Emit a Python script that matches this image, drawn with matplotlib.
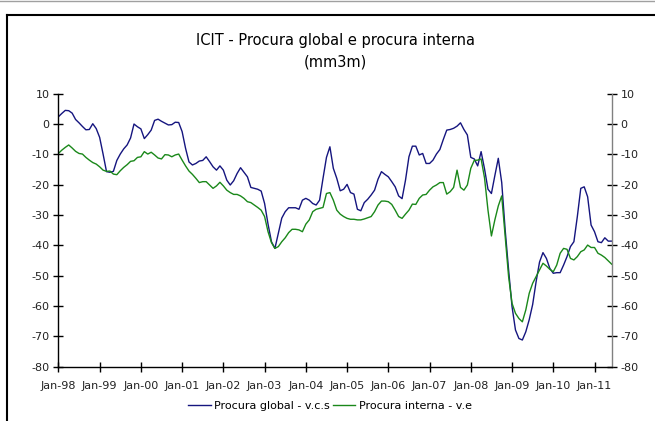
import matplotlib
matplotlib.use("Agg")
import matplotlib.pyplot as plt
from matplotlib.lines import Line2D

plt.rcParams['font.family'] = ['DejaVu Sans']
plt.rcParams['axes.unicode_minus'] = False

# monthly values Jan-98 .. Jun-11
global_vcs = [
    2.4, 3.5, 4.5, 4.4, 3.6, 1.5, 0.4, -0.8, -1.9, -1.8, 0.1, -1.5,
    -4.4, -9.9, -15.7, -15.9, -15.6, -12.0, -9.9, -8.2, -6.9, -4.6, 0.0, -0.9,
    -1.6, -4.8, -3.5, -2.0, 1.2, 1.6, 0.9, 0.3, -0.3, -0.2, 0.6, 0.5,
    -2.5, -8.0, -12.5, -13.5, -13.0, -12.2, -12.0, -10.8, -12.4, -14.1, -15.2, -13.8,
    -15.2, -18.5, -20.1, -18.7, -16.3, -14.4, -15.9, -17.4, -20.9, -21.2, -21.5, -22.1,
    -26.2, -33.0, -38.8, -41.0, -36.0, -31.0, -28.9, -27.6, -27.6, -27.6, -28.1, -25.1,
    -24.5, -25.1, -26.2, -26.7, -25.1, -17.9, -11.0, -7.5, -14.6, -17.9, -22.0, -21.5,
    -19.9, -22.6, -23.1, -28.1, -28.6, -25.9, -24.8, -23.4, -21.8, -18.2, -15.7, -16.6,
    -17.4, -19.0, -20.7, -23.7, -24.6, -18.5, -10.8, -7.3, -7.3, -10.2, -9.7, -13.0,
    -13.0, -11.9, -9.9, -8.4, -5.1, -2.0, -1.8, -1.4, -0.7, 0.4, -1.8, -3.6,
    -11.0, -11.5, -13.8, -9.1, -14.8, -21.5, -22.9, -17.0, -11.3, -19.3, -34.9, -48.1,
    -60.2, -67.9, -70.7, -71.2, -68.5, -64.5, -59.5, -52.0, -45.5, -42.4, -44.3, -47.6,
    -49.2, -49.0, -49.0, -46.5, -43.7, -40.4, -38.8, -30.5, -21.2, -20.7, -24.0, -33.3,
    -35.5, -38.8, -39.1, -37.5, -38.6, -38.6,
]

interna_ve = [
    -9.7, -8.6, -7.7, -6.9, -7.9, -9.0, -9.7, -9.9, -11.0, -11.9, -12.7, -13.2,
    -14.1, -15.2, -15.6, -15.5, -16.5, -16.7, -15.4, -14.3, -13.4, -12.3, -12.1, -11.0,
    -10.8, -9.1, -9.9, -9.3, -10.2, -11.2, -11.5, -10.1, -10.2, -10.8, -10.2, -9.9,
    -11.9, -13.8, -15.5, -16.6, -17.9, -19.3, -19.0, -19.0, -20.1, -21.2, -20.4, -19.2,
    -20.4, -21.8, -22.6, -23.2, -23.2, -23.7, -24.5, -25.6, -25.9, -26.7, -27.5, -28.4,
    -30.5, -35.5, -39.1, -41.0, -40.4, -38.8, -37.5, -35.8, -34.7, -34.7, -34.9, -35.5,
    -33.0, -31.6, -28.9, -28.1, -27.8, -27.5, -22.9, -22.6, -25.1, -28.4, -29.7, -30.5,
    -31.1, -31.4, -31.4, -31.6, -31.6, -31.3, -30.9, -30.5, -28.9, -26.7, -25.4, -25.4,
    -25.6, -26.5, -28.4, -30.5, -31.1, -29.7, -28.4, -26.4, -26.5, -24.5, -23.4, -23.2,
    -21.8, -20.7, -20.1, -19.3, -19.3, -23.1, -22.3, -20.9, -15.2, -20.9, -21.8, -20.1,
    -14.6, -12.0, -11.9, -11.5, -17.8, -28.4, -36.9, -31.6, -27.0, -23.7, -37.1, -50.3,
    -59.1, -62.4, -64.1, -65.2, -61.3, -55.8, -52.5, -50.3, -48.1, -45.9, -46.8, -47.9,
    -48.7, -46.5, -42.6, -41.0, -41.3, -44.3, -44.8, -43.7, -42.1, -41.5, -39.9, -40.7,
    -40.7, -42.6, -43.2, -44.0, -45.1, -46.2,
]

year_labels = ['Jan-98', 'Jan-99', 'Jan-00', 'Jan-01', 'Jan-02', 'Jan-03', 'Jan-04',
               'Jan-05', 'Jan-06', 'Jan-07', 'Jan-08', 'Jan-09', 'Jan-10', 'Jan-11']
y_ticks = [10, 0, -10, -20, -30, -40, -50, -60, -70, -80]

months = list(range(len(global_vcs)))

fig = plt.figure(figsize=(6.55, 4.21), dpi=100)
ax = fig.add_axes([58.4 / 655, 1 - 366.7 / 421, (611.7 - 58.4) / 655, (366.7 - 93.7) / 421])

ax.plot(months, global_vcs, color='#15157f', lw=1.0, label='Procura global - v.c.s')
ax.plot(months, interna_ve, color='#1a881a', lw=1.0, label='Procura interna - v.e')

ax.set_xlim(0, len(months) - 1)
ax.set_ylim(-80, 10)
ax.set_xticks([12 * i for i in range(len(year_labels))])
ax.set_xticklabels(year_labels)
ax.set_yticks(y_ticks)

ax.spines['top'].set_visible(False)
ax.spines['right'].set_color('#808080')
for s in ['left', 'bottom']:
    ax.spines[s].set_color('black')
    ax.spines[s].set_linewidth(1.0)
ax.spines['right'].set_linewidth(1.0)

ax.tick_params(axis='both', direction='inout', length=7, width=1.0, labelsize=8,
               colors='black', labelcolor='#222222')
ax.tick_params(axis='y', right=True, labelright=True, pad=3)
ax.tick_params(axis='x', pad=7)
for t in ax.yaxis.get_ticklines()[1::2]:
    t.set_color('#808080')

fig.text(335 / 655, 1 - 40 / 421, 'ICIT - Procura global e procura interna',
         ha='center', va='center', fontsize=10.5)
fig.text(335 / 655, 1 - 62 / 421, '(mm3m)', ha='center', va='center', fontsize=10.5)

fig.legend(loc='center', bbox_to_anchor=(330 / 655, 1 - 406 / 421), ncol=2,
           frameon=False, fontsize=8, handlelength=2.0, handletextpad=0.3,
           columnspacing=0.3, borderpad=0)

# outer chart frame and top rule
fig.add_artist(Line2D([0, 1], [1 - 1 / 421, 1 - 1 / 421], color='#a0a0a0', lw=1.0))
fig.add_artist(Line2D([7 / 655, 7 / 655], [0, 1 - 15 / 421], color='black', lw=1.5))
fig.add_artist(Line2D([7 / 655, 1], [1 - 15 / 421, 1 - 15 / 421], color='black', lw=1.5))

fig.savefig('out.png', dpi=100)
